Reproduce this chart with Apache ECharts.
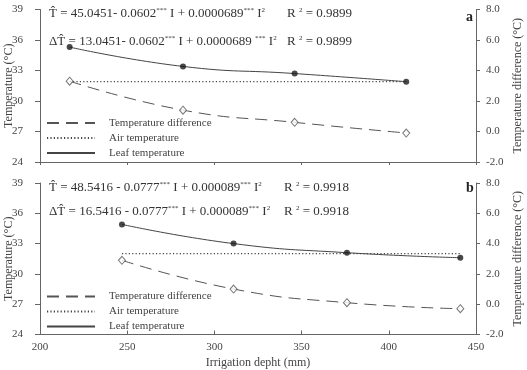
<!DOCTYPE html>
<html><head><meta charset="utf-8">
<script src="https://cdn.jsdelivr.net/npm/echarts@6/dist/echarts.min.js"></script>
<style>html,body{margin:0;padding:0;background:#fff}#c{width:527px;height:370px}</style>
</head><body><div id="c"></div>
<script>
// Panel a
const irrigationA = [217, 282, 346, 410];
const leafA = [35.3, 33.4, 32.7, 31.9];
const airA = [31.9, 31.9, 31.9, 31.9];
const diffA = [3.3, 1.4, 0.6, -0.1];
// Panel b
const irrigationB = [247, 311, 376, 441];
const leafB = [34.9, 33.0, 32.1, 31.6];
const airB = [32.0, 32.0, 32.0, 32.0];
const diffB = [2.9, 1.0, 0.1, -0.3];
// Axes
const xRange = [200, 450, 50];
const leftRange = [24, 39, 3];
const rightRange = [-2, 8, 2];
const seriesNames = ['Temperature difference', 'Air temperature', 'Leaf temperature'];
const panelLabels = ['a', 'b'];
// Equations
const eqA1 = ['T\u0302 = 45.0451- 0.0602', '***', ' I + 0.0000689', '***', ' I', '2'];
const eqA2 = ['\u0394T\u0302 = 13.0451- 0.0602', '***', ' I + 0.0000689 ', '***', ' I', '2'];
const eqB1 = ['T\u0302 = 48.5416 - 0.0777', '***', ' I + 0.000089', '***', ' I', '2'];
const eqB2 = ['\u0394T\u0302 = 16.5416 - 0.0777', '***', ' I + 0.000089', '***', ' I', '2'];
const r2A = '0.9899';
const r2B = '0.9918';

const FONT = '"Liberation Serif", "DejaVu Serif", serif';
const INK = '#333';
const AX = '#666';

const zip = (xs, ys) => xs.map((x, i) => [x, ys[i]]);

function eqRich(parts) {
  return parts.map((p, i) => (i % 2 === 0 ? '{t|' : '{s|') + p + '}').join('');
}
const rich = {
  t: { fontFamily: FONT, fontSize: 13, lineHeight: 15, fill: INK, color: INK },
  s: { fontFamily: FONT, fontSize: 7, lineHeight: 8, verticalAlign: 'top', fill: INK, color: INK }
};
function eqText(parts, x, y) {
  return { type: 'text', x: x, y: y, style: { text: eqRich(parts), rich: rich, verticalAlign: 'middle', fill: INK, font: '13px ' + FONT } };
}
function r2Text(v, x, y) {
  return { type: 'text', x: x, y: y, style: { text: '{t|R }{s|2}{t| = ' + v + '}', rich: rich, verticalAlign: 'middle', fill: INK, font: '13px ' + FONT } };
}

function xAxis(grid, labels) {
  return {
    gridIndex: grid, type: 'value', min: xRange[0], max: xRange[1], interval: xRange[2],
    axisLine: { show: true, onZero: false, lineStyle: { color: AX, width: 1 } },
    axisTick: { show: true, inside: labels, length: labels ? 4 : 3, lineStyle: { color: AX } },
    axisLabel: { show: labels, fontFamily: FONT, fontSize: 11, color: '#444', margin: 7 },
    splitLine: { show: false },
    name: labels ? 'Irrigation depht (mm)' : '', nameLocation: 'middle', nameGap: 22, nameMoveOverlap: false,
    nameTextStyle: { fontFamily: FONT, fontSize: 12, color: '#444' }
  };
}
function leftAxis(grid) {
  return {
    gridIndex: grid, type: 'value', position: 'left', min: leftRange[0], max: leftRange[1], interval: leftRange[2],
    axisLine: { show: true, onZero: false, lineStyle: { color: AX, width: 1 } },
    axisTick: { show: true, inside: false, length: 5, lineStyle: { color: AX } },
    axisLabel: { fontFamily: FONT, fontSize: 11, color: '#444', margin: 17 },
    splitLine: { show: false },
    name: 'Temperature (\u00B0C)', nameLocation: 'middle', nameGap: 25, nameMoveOverlap: false,
    nameTextStyle: { fontFamily: FONT, fontSize: 12, color: '#444' }
  };
}
function rightAxis(grid) {
  return {
    gridIndex: grid, type: 'value', position: 'right', min: rightRange[0], max: rightRange[1], interval: rightRange[2],
    axisLine: { show: true, onZero: false, lineStyle: { color: AX, width: 1 } },
    axisTick: { show: true, inside: false, length: 4, lineStyle: { color: AX } },
    axisLabel: { fontFamily: FONT, fontSize: 11, color: '#444', margin: 10, formatter: v => v.toFixed(1) },
    splitLine: { show: false },
    name: 'Temperature difference (\u00B0C)', nameLocation: 'middle', nameGap: 36, nameMoveOverlap: false,
    nameTextStyle: { fontFamily: FONT, fontSize: 12, color: '#444' }
  };
}

function panelSeries(p, xs, leaf, air, diff) {
  const xi = p, yl = p * 2, yr = p * 2 + 1;
  return [
    { name: seriesNames[0], type: 'line', xAxisIndex: xi, yAxisIndex: yr, data: zip(xs, diff), smooth: true, symbol: 'none',
      color: '#555', itemStyle: { color: '#555' }, lineStyle: { color: '#555', width: 1, type: [12, 7] }, z: 2 },
    { name: seriesNames[1], type: 'line', xAxisIndex: xi, yAxisIndex: yl, data: zip(xs, air), symbol: 'none',
      color: '#444', itemStyle: { color: '#444' }, lineStyle: { color: '#444', width: 1.2, type: [1.2, 2.2] }, z: 2 },
    { name: seriesNames[2], type: 'line', xAxisIndex: xi, yAxisIndex: yl, data: zip(xs, leaf), smooth: true, symbol: 'none',
      color: '#444', itemStyle: { color: '#444' }, lineStyle: { color: '#444', width: 1 }, z: 2 },
    { name: 'leaf-pts-' + p, type: 'scatter', xAxisIndex: xi, yAxisIndex: yl, data: zip(xs, leaf), symbol: 'circle', symbolSize: 6,
      itemStyle: { color: '#1a1a1a' }, z: 4 },
    { name: 'diff-pts-' + p, type: 'scatter', xAxisIndex: xi, yAxisIndex: yr, data: zip(xs, diff), symbol: 'diamond', symbolSize: [7, 8],
      itemStyle: { color: '#fff', borderColor: '#555', borderWidth: 1 }, z: 4 }
  ];
}

function legend(top) {
  return {
    data: seriesNames, left: 46, top: top, orient: 'vertical', padding: 0,
    itemWidth: 48, itemHeight: 10, itemGap: 4, selectedMode: false,
    itemStyle: { opacity: 0 },
    textStyle: { fontFamily: FONT, fontSize: 11, color: '#444', lineHeight: 10, padding: [0, 0, 0, 9] }
  };
}

const chart = echarts.init(document.getElementById('c'), null, { renderer: 'canvas' });
chart.setOption({
  backgroundColor: '#fff',
  animation: false,
  grid: [
    { left: 40, right: 51, top: 9.5, height: 152.5, outerBoundsMode: 'none', containLabel: false },
    { left: 40, right: 51, top: 183, height: 151.5, outerBoundsMode: 'none', containLabel: false }
  ],
  xAxis: [xAxis(0, false), xAxis(1, true)],
  yAxis: [leftAxis(0), rightAxis(0), leftAxis(1), rightAxis(1)],
  legend: [legend(117.5), legend(291)],
  series: [].concat(panelSeries(0, irrigationA, leafA, airA, diffA), panelSeries(1, irrigationB, leafB, airB, diffB)),
  graphic: [
    eqText(eqA1, 49, 14), r2Text(r2A, 287, 14),
    eqText(eqA2, 49, 42), r2Text(r2A, 287, 42),
    eqText(eqB1, 49, 188), r2Text(r2B, 284, 188),
    eqText(eqB2, 49, 212), r2Text(r2B, 284, 212),
    { type: 'text', x: 466, y: 17, style: { text: panelLabels[0], font: 'bold 14px ' + FONT, fill: '#222', verticalAlign: 'middle' } },
    { type: 'text', x: 466, y: 188, style: { text: panelLabels[1], font: 'bold 14px ' + FONT, fill: '#222', verticalAlign: 'middle' } }
  ]
});
</script></body></html>
